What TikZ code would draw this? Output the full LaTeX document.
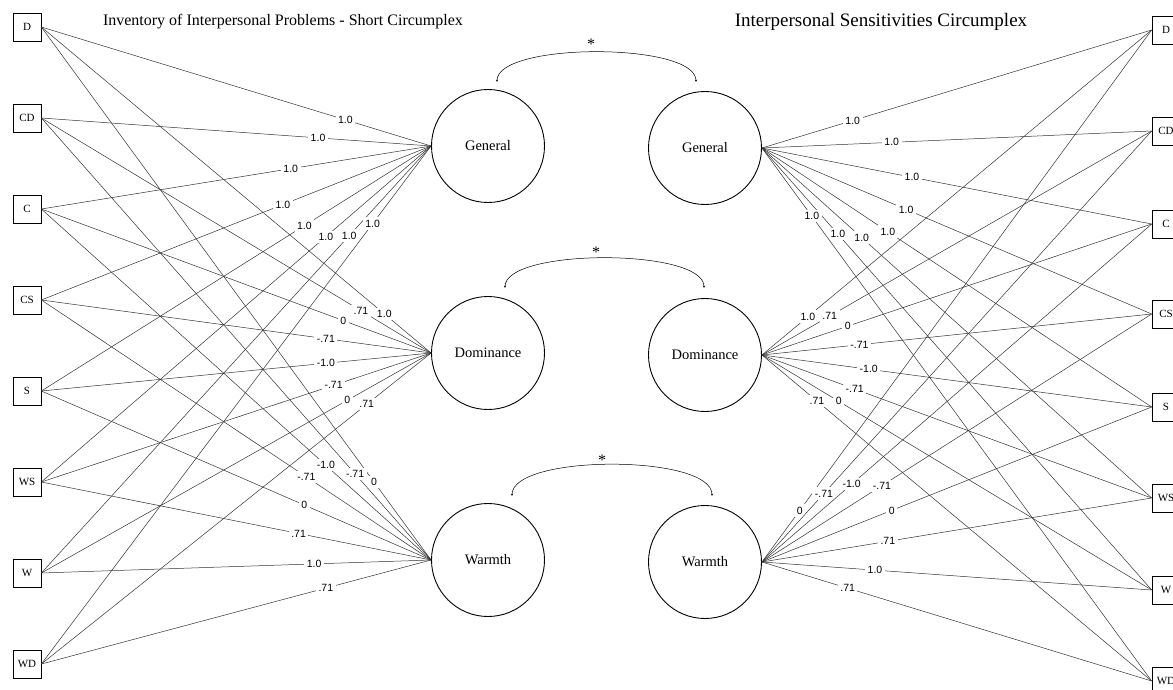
\documentclass[tikz,border=0pt]{standalone}
\usepackage{fontspec}
\setmainfont{Liberation Serif}
\setsansfont{Liberation Sans}
\usetikzlibrary{arrows.meta}

\tikzset{
  ind/.style={draw, line width=0.7pt, minimum size=28pt, inner sep=0pt, font=\fontsize{11}{13}\selectfont},
  latent/.style={draw, circle, line width=0.9pt, minimum size=113pt, inner sep=0pt, font=\fontsize{14.5}{17}\selectfont},
  load/.style={draw=black!80, line width=0.5pt},
  coef/.style={fill=white, inner sep=2.5pt, font=\sffamily\fontsize{10.5}{12}\selectfont},
  covar/.style={line width=0.5pt, {Stealth[length=2.5pt,width=2pt]}-{Stealth[length=2.5pt,width=2pt]}},
  ttl/.style={font=\fontsize{16}{19}\selectfont},
  star/.style={font=\fontsize{16}{18}\selectfont},
}

\begin{document}
\begin{tikzpicture}[x=1pt, y=-1pt]
  \useasboundingbox (0,0) rectangle (1173,690);

  % titles
  \node[ttl] (ttlL) at (283,22) {Inventory of Interpersonal Problems - Short Circumplex};
  \node[ttl, font=\fontsize{19}{22}\selectfont] (ttlR) at (881,22) {Interpersonal Sensitivities Circumplex};

  % adding the boxes
  \node[ind] (lD)  at (27,27)  {D};
  \node[ind] (lCD) at (27,118) {CD};
  \node[ind] (lC)  at (27,209) {C};
  \node[ind] (lCS) at (27,300) {CS};
  \node[ind] (lS)  at (27,391) {S};
  \node[ind] (lWS) at (27,482) {WS};
  \node[ind] (lW)  at (27,573) {W};
  \node[ind] (lWD) at (27,664) {WD};

  \node[ind] (rD)  at (1166,30)  {D};
  \node[ind] (rCD) at (1166,131) {CD};
  \node[ind] (rC)  at (1166,224) {C};
  \node[ind] (rCS) at (1166,314) {CS};
  \node[ind] (rS)  at (1166,407) {S};
  \node[ind] (rWS) at (1166,498) {WS};
  \node[ind] (rW)  at (1166,590) {W};
  \node[ind] (rWD) at (1166,681) {WD};

  % adding the factors
  \node[latent] (genL) at (488,146) {General};
  \node[latent] (domL) at (488,353) {Dominance};
  \node[latent] (warL) at (488,560) {Warmth};
  \node[latent] (genR) at (705,148) {General};
  \node[latent] (domR) at (705,355) {Dominance};
  \node[latent] (warR) at (705,562) {Warmth};

  % Adding loadings, left side
  \foreach \b/\v/\p in {D/1.0/.22, CD/1.0/.29, C/1.0/.36, CS/1.0/.38, S/1.0/.325, WS/1.0/.27, W/1.0/.21, WD/1.0/.15}
    \draw[load] (genL.west) -- node[coef, pos=\p] {\v} (l\b.east);
  \foreach \b/\v/\p in {D/1.0/.12, CD/.71/.18, C/0/.225, CS/-.71/.27, S/-1.0/.27, WS/-.71/.25, W/0/.215, WD/.71/.165}
    \draw[load] (domL.west) -- node[coef, pos=\p] {\v} (l\b.east);
  \foreach \b/\v/\p in {D/0/.146, CD/-.71/.195, C/-1.0/.27, CS/-.71/.32, S/0/.325, WS/.71/.34, W/1.0/.30, WD/.71/.27}
    \draw[load] (warL.west) -- node[coef, pos=\p] {\v} (l\b.east);

  % Adding loadings, right side
  \foreach \b/\v/\p in {D/1.0/.233, CD/1.0/.333, C/1.0/.385, CS/1.0/.37, S/1.0/.323, WS/1.0/.256, W/1.0/.195, WD/1.0/.128}
    \draw[load] (genR.east) -- node[coef, pos=\p] {\v} (r\b.west);
  \foreach \b/\v/\p in {D/1.0/.118, CD/.71/.174, C/0/.22, CS/-.71/.25, S/-1.0/.274, WS/-.71/.238, W/0/.197, WD/.71/.141}
    \draw[load] (domR.east) -- node[coef, pos=\p] {\v} (r\b.west);
  \foreach \b/\v/\p in {D/0/.097, CD/-.71/.159, C/-1.0/.23, CS/-.71/.308, S/0/.333, WS/.71/.323, W/1.0/.29, WD/.71/.22}
    \draw[load] (warR.east) -- node[coef, pos=\p] {\v} (r\b.west);

  % covariances between the two circumplexes
  \draw[covar] ([shift={(9,-7)}]genL.north) .. controls +(0,-40) and +(0,-40) .. ([shift={(-9,-9)}]genR.north);
  \draw[covar] ([shift={(17,-8)}]domL.north) .. controls +(0,-40) and +(0,-40) .. ([shift={(-1,-10)}]domR.north);
  \draw[covar] ([shift={(24,-7)}]warL.north) .. controls +(0,-42) and +(0,-42) .. ([shift={(7,-9)}]warR.north);
  \node[star] (s1) at (591,44) {*};
  \node[star] (s2) at (596,252) {*};
  \node[star] (s3) at (602,460) {*};
\end{tikzpicture}
\end{document}
